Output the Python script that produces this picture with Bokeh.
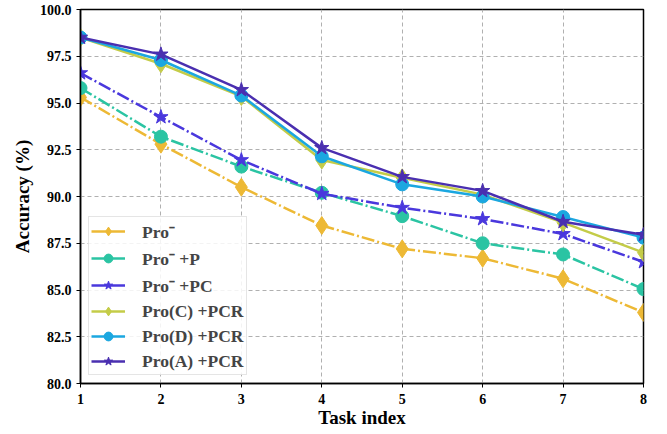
from bokeh.plotting import figure
from bokeh.models import Range1d, FixedTicker, NumeralTickFormatter, Legend
from bokeh.embed import file_html
from bokeh.resources import INLINE

tasks = [1, 2, 3, 4, 5, 6, 7, 8]
pro_minus = [95.3, 92.8, 90.5, 88.45, 87.2, 86.7, 85.6, 83.8]
pro_minus_p = [95.8, 93.2, 91.6, 90.2, 88.95, 87.5, 86.9, 85.05]
pro_minus_pc = [96.6, 94.25, 91.95, 90.15, 89.4, 88.8, 88.0, 86.5]
pro_c_pcr = [98.5, 97.1, 95.35, 91.95, 91.0, 90.1, 88.6, 87.0]
pro_d_pcr = [98.5, 97.3, 95.4, 92.15, 90.65, 90.0, 88.9, 87.8]
pro_a_pcr = [98.5, 97.6, 95.7, 92.6, 91.05, 90.3, 88.65, 87.95]

labels = ["Pro\u207b", "Pro\u207b +P", "Pro\u207b +PC", "Pro(C) +PCR", "Pro(D) +PCR", "Pro(A) +PCR"]
series = [pro_minus, pro_minus_p, pro_minus_pc, pro_c_pcr, pro_d_pcr, pro_a_pcr]
colors = ["#EDB935", "#2BC4A3", "#4A38DD", "#C4CC48", "#1BA7E0", "#4A2FB0"]
markers = ["diamond", "circle", "star", "diamond", "circle", "star"]
msizes = [18, 13, 15, 18, 13, 15]
dashes = ["13 3 2 3", "13 3 2 3", "13 3 2 3", "solid", "solid", "solid"]
y_ticks = [80.0, 82.5, 85.0, 87.5, 90.0, 92.5, 95.0, 97.5, 100.0]

FONT = "Liberation Serif"
NAN = float("nan")

p = figure(width=659, height=432, output_backend="svg", toolbar_location=None,
           x_range=Range1d(1, 8), y_range=Range1d(80, 100),
           min_border_left=80, min_border_right=16, min_border_top=9, min_border_bottom=49)

p.outline_line_color = "black"
p.outline_line_width = 1.5

items = []
for lab, ys, c, m, s, d in zip(labels, series, colors, markers, msizes, dashes):
    p.line(tasks, ys, line_color=c, line_width=2.5, line_dash=d)
    r2 = p.scatter(tasks, ys, marker=m, size=s, fill_color=c, line_color=c)
    # solid line used only as the legend swatch (draws nothing in the plot)
    r_leg = p.line([NAN], [NAN], line_color=c, line_width=2.5)
    items.append((lab, [r_leg, r2]))

legend = Legend(items=items, location="bottom_left")
legend.margin = 8
legend.padding = 2
legend.spacing = 3
legend.glyph_width = 34
legend.glyph_height = 22
legend.label_height = 22
legend.label_standoff = 17
legend.label_text_font = FONT
legend.label_text_font_style = "bold"
legend.label_text_font_size = "17.5px"
legend.border_line_color = "#cccccc"
legend.border_line_width = 1
legend.background_fill_alpha = 0.85
p.add_layout(legend)

p.xaxis.ticker = FixedTicker(ticks=tasks)
p.yaxis.ticker = FixedTicker(ticks=y_ticks)
p.yaxis.formatter = NumeralTickFormatter(format="0.0")

for ax in (p.xaxis, p.yaxis):
    ax.axis_line_color = "black"
    ax.axis_line_width = 1.5
    ax.major_tick_out = 4
    ax.major_tick_in = 0
    ax.minor_tick_line_color = None
    ax.major_tick_line_color = "black"
    ax.major_label_text_font = FONT
    ax.major_label_text_font_style = "bold"
    ax.major_label_text_font_size = "14px"
    ax.major_label_text_color = "black"
    ax.axis_label_text_font = FONT
    ax.axis_label_text_font_style = "bold"
    ax.axis_label_text_font_size = "19px"
    ax.axis_label_text_color = "black"

p.xaxis.axis_label = "Task index"
p.yaxis.axis_label = "Accuracy (%)"
p.xaxis.major_label_standoff = 6
p.yaxis.major_label_standoff = 5
p.xaxis.axis_label_standoff = 0
p.yaxis.axis_label_standoff = 4

p.grid.grid_line_color = "#b0b0b0"
p.grid.grid_line_dash = "4 3"
p.grid.grid_line_width = 1

open("out.html", "w").write(file_html(p, INLINE))
